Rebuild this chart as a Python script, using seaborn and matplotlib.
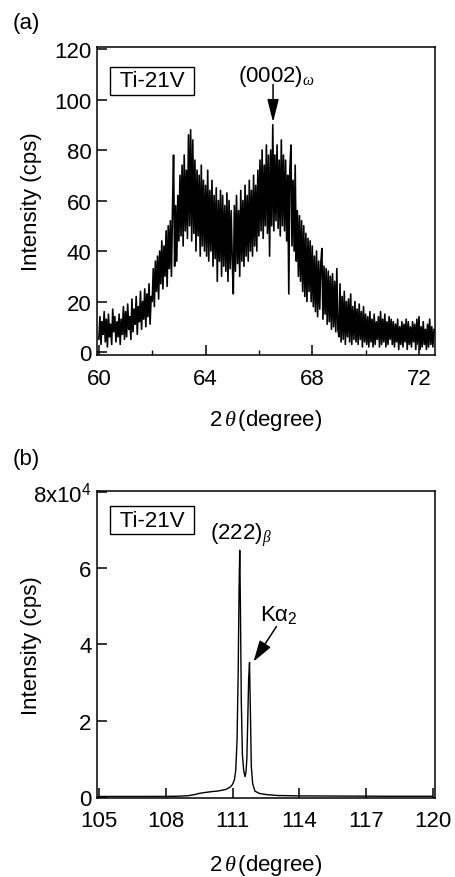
import numpy as np
import pandas as pd
import matplotlib.pyplot as plt
import seaborn as sns
from matplotlib.ticker import MultipleLocator


# (a) omega reflection, scan 60 - 72.56 deg, step 0.04 deg
scan_start = 60.0
scan_step = 0.04
cps_60 = [5, 14, 3, 12, 7, 16, 4, 13, 2, 15, 6, 11, 3, 17, 8, 14, 4, 12, 6, 15, 3, 13, 7, 18, 5]
cps_61 = [16, 6, 19, 9, 14, 5, 21, 8, 17, 11, 22, 7, 18, 12, 24, 9, 20, 13, 25, 10, 23, 14, 27, 11, 22]
cps_62 = [20, 33, 18, 36, 24, 38, 21, 40, 27, 44, 25, 42, 30, 48, 26, 50, 33, 52, 30, 56, 78, 34, 58, 36, 62]
cps_63 = [44, 70, 46, 74, 42, 78, 48, 72, 45, 86, 50, 88, 44, 84, 47, 76, 40, 72, 46, 70, 38, 74, 42, 68, 40]
cps_64 = [66, 38, 72, 36, 64, 40, 68, 34, 62, 37, 65, 28, 60, 36, 64, 30, 62, 34, 58, 32, 63, 28, 60, 33, 56]
cps_65 = [36, 23, 58, 32, 62, 35, 56, 30, 64, 36, 60, 34, 66, 38, 62, 36, 68, 40, 64, 38, 70, 42, 66, 40, 72]
cps_66 = [46, 76, 48, 80, 45, 74, 50, 82, 47, 78, 38, 80, 50, 90, 48, 78, 52, 82, 49, 76, 46, 84, 50, 78, 48]
cps_67 = [76, 44, 70, 23, 72, 82, 42, 68, 40, 74, 36, 56, 30, 54, 28, 52, 24, 50, 22, 47, 20, 45, 24, 44, 20]
cps_68 = [42, 18, 38, 16, 40, 14, 36, 17, 35, 41, 13, 34, 15, 33, 11, 32, 12, 30, 9, 31, 10, 28, 8, 33, 9]
cps_69 = [6, 27, 4, 22, 5, 24, 3, 20, 6, 21, 4, 23, 3, 18, 5, 20, 4, 17, 3, 19, 5, 16, 2, 18, 4]
cps_70 = [15, 3, 14, 2, 16, 4, 13, 2, 15, 3, 12, 5, 14, 2, 16, 3, 13, 4, 15, 2, 12, 3, 14, 5, 13]
cps_71 = [3, 12, 2, 11, 4, 13, 1, 10, 3, 12, 2, 11, 4, 13, 1, 12, 3, 10, 2, 12, 4, 11, 1, 13, 3]
cps_72 = [14, 1, 10, 2, 12, 3, 9, 1, 11, 2, 13, 3, 10, 2, 9]

# (b) (222) beta reflection
two_theta_b = [105.0, 106.0, 107.0, 108.0, 108.5, 109.0, 109.3, 109.5, 109.7, 109.9,
               110.1, 110.3, 110.5, 110.7, 110.9, 111.0, 111.08, 111.14, 111.2, 111.25,
               111.29, 111.32, 111.35, 111.39, 111.44, 111.5, 111.56, 111.6, 111.64, 111.68,
               111.72, 111.76, 111.8, 111.84, 111.9, 112.0, 112.2, 112.5, 113.0, 114.0,
               116.0, 118.0, 120.0]
cps_b = [100, 100, 100, 120, 150, 300, 600, 900, 1100, 1250,
         1400, 1500, 1700, 1950, 2600, 3300, 4500, 7000, 15000, 33000,
         55000, 64700, 50000, 25000, 11000, 6800, 5300, 6500, 10000, 20000,
         31000, 35300, 22000, 8000, 3500, 1500, 900, 600, 350, 250,
         200, 150, 150]
yticks_b = [0, 20000, 40000, 60000, 80000]
ytick_labels_b = ['0', '2', '4', '6', '8x10$^4$']

cps_a = (cps_60 + cps_61 + cps_62 + cps_63 + cps_64 + cps_65 + cps_66
         + cps_67 + cps_68 + cps_69 + cps_70 + cps_71 + cps_72)
df_a = pd.DataFrame({'two_theta': scan_start + scan_step * np.arange(len(cps_a)),
                     'cps': cps_a})
df_b = pd.DataFrame({'two_theta': two_theta_b, 'cps': cps_b})

sns.set_style('ticks')
plt.rcParams['font.family'] = ['Liberation Sans', 'DejaVu Sans']
plt.rcParams['mathtext.fontset'] = 'custom'
plt.rcParams['mathtext.rm'] = 'Liberation Sans'
plt.rcParams['mathtext.it'] = 'Liberation Serif:italic'
plt.rcParams['axes.linewidth'] = 1.1
for key in ['text.color', 'axes.labelcolor', 'axes.edgecolor', 'xtick.color', 'ytick.color']:
    plt.rcParams[key] = 'black'

fs = 16
fig = plt.figure(figsize=(4.56, 8.78), dpi=100)
ax1 = fig.add_axes([0.2127, 0.5945, 0.7412, 0.3508])
ax2 = fig.add_axes([0.2127, 0.0900, 0.7412, 0.3497])

sns.lineplot(data=df_a, x='two_theta', y='cps', ax=ax1, color='black',
             linewidth=1.2, estimator=None, sort=False)
sns.lineplot(data=df_b, x='two_theta', y='cps', ax=ax2, color='black',
             linewidth=1.0, estimator=None, sort=False)

box = dict(boxstyle='square,pad=0.17', fc='white', ec='black', lw=1)

# panel (a)
ax1.set_xlim(59.93, 72.6)
ax1.set_ylim(-1.2, 120.8)
ax1.xaxis.set_major_locator(MultipleLocator(4))
ax1.xaxis.set_minor_locator(MultipleLocator(2))
ax1.yaxis.set_major_locator(MultipleLocator(20))
ax1.text(0.163, 0.89, ' Ti-21V ', transform=ax1.transAxes, ha='center', va='center',
         fontsize=fs, bbox=box)
ax1.text(65.2, 109.5, '(0002)$_{\\omega}$', ha='left', va='center', fontsize=fs)
ax1.annotate('', xy=(66.53, 91), xytext=(66.53, 106),
             arrowprops=dict(arrowstyle='-|>,head_length=1.4,head_width=0.35',
                             color='black', lw=1.1, shrinkA=0, shrinkB=0, mutation_scale=10))

# panel (b)
ax2.set_xlim(104.9, 120.1)
ax2.set_ylim(-300, 80300)
ax2.set_xticks([105, 108, 111, 114, 117, 120])
ax2.set_yticks(yticks_b)
ax2.set_yticklabels(ytick_labels_b)
ax2.text(0.163, 0.905, ' Ti-21V ', transform=ax2.transAxes, ha='center', va='center',
         fontsize=fs, bbox=box)
ax2.text(110.0, 69000, '(222)$_{\\beta}$', ha='left', va='center', fontsize=fs)
ax2.text(112.25, 48000, 'K\u03b1$_2$', ha='left', va='center', fontsize=fs)
ax2.annotate('', xy=(111.94, 35500), xytext=(112.97, 44700),
             arrowprops=dict(arrowstyle='-|>,head_length=1.3,head_width=0.4',
                             color='black', lw=1.1, shrinkA=0, shrinkB=0, mutation_scale=10))

for ax in (ax1, ax2):
    ax.tick_params(which='major', direction='in', length=7, width=1.1,
                   labelsize=fs, top=False, right=False)
    ax.tick_params(which='minor', direction='in', length=3.5, width=1.0)
    ax.tick_params(axis='x', pad=9)
    ax.tick_params(axis='y', pad=4)
    for sp in ax.spines.values():
        sp.set_visible(True)
    ax.set_xlabel('2$\\,\\theta\\,$(degree)', fontsize=fs)
    ax.set_ylabel('Intensity (cps)', fontsize=fs)
    ax.yaxis.set_label_coords(-0.163, 0.5)

ax1.xaxis.set_label_coords(0.5, -0.168)
ax2.xaxis.set_label_coords(0.5, -0.175)

fig.text(13 / 456, 1 - 24 / 878, '(a)', ha='left', va='center', fontsize=fs)
fig.text(13 / 456, 1 - 460 / 878, '(b)', ha='left', va='center', fontsize=fs)

plt.savefig('out.png', dpi=100)
